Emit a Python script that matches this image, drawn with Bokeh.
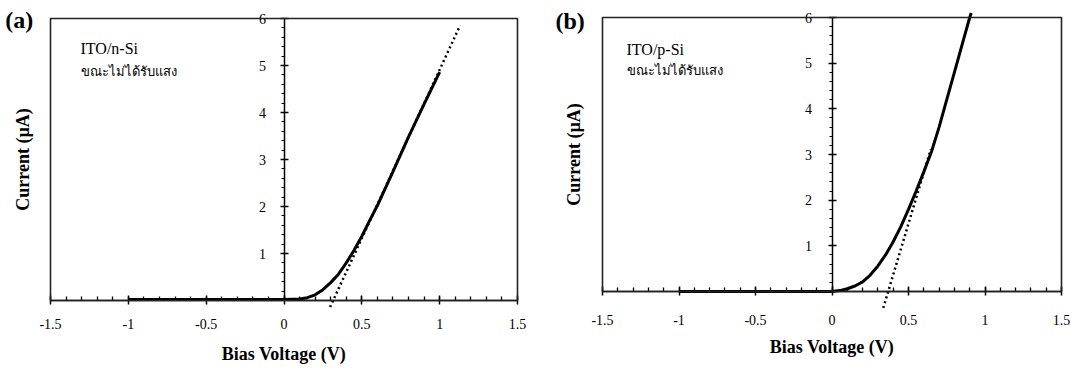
from bokeh.plotting import figure
from bokeh.models import Range1d, LinearAxis, FixedTicker, BoxAnnotation, Label
from bokeh.layouts import row
from bokeh.embed import file_html
from bokeh.resources import INLINE

# I-V curves measured in the dark
v_nsi = [-1.0, -0.5, 0.0, 0.1, 0.15, 0.2, 0.25, 0.3, 0.35, 0.4, 0.45, 0.5, 0.55, 0.6, 0.7, 0.8, 0.9, 1.0]
i_nsi = [0.02, 0.02, 0.02, 0.03, 0.06, 0.12, 0.23, 0.38, 0.56, 0.80, 1.07, 1.37, 1.70, 2.02, 2.74, 3.48, 4.18, 4.86]
fit_v_nsi = [0.296, 1.131]
fit_i_nsi = [-0.14, 5.85]

v_psi = [-1.0, -0.5, 0.0, 0.05, 0.1, 0.15, 0.2, 0.25, 0.3, 0.35, 0.4, 0.45, 0.5, 0.55, 0.6, 0.65, 0.7, 0.75, 0.8, 0.85, 0.9, 0.91]
i_psi = [0.0, 0.0, 0.0, 0.02, 0.06, 0.12, 0.21, 0.36, 0.56, 0.80, 1.09, 1.42, 1.80, 2.20, 2.62, 3.06, 3.60, 4.20, 4.80, 5.40, 6.0, 6.1]
fit_v_psi = [0.335, 0.645]
fit_i_psi = [-0.36, 3.11]

x_ticks = [-1.5, -1.0, -0.5, 0.0, 0.5, 1.0, 1.5]
x_tick_labels = ["-1.5", "-1", "-0.5", "0", "0.5", "1", "1.5"]
y_ticks = [1, 2, 3, 4, 5, 6]
y_tick_labels = ["1", "2", "3", "4", "5", "6"]

x_minor = [round(-1.5 + 0.1 * k, 2) for k in range(31)]
y_minor = [round(0.2 * k, 2) for k in range(31)]

X_LO, X_HI = -1.5, 1.5
Y_LO, Y_HI = 0.0, 6.0
HEIGHT = 370

SERIF = "Liberation Serif"
THAI_CAPTION = "ขณะไม่ได้รับแสง"


def padded(lo, hi, px_lo, px_hi, px_total):
    """Range whose [lo, hi] part lands on pixels [px_lo, px_hi] of a px_total canvas."""
    scale = (px_hi - px_lo) / (hi - lo)
    return Range1d(lo - px_lo / scale, hi + (px_total - px_hi) / scale)


def make_panel(tag, device, v, cur, fv, fi, width, box,
               xlab_standoff, xtitle_standoff, ylab_standoff, ytitle_standoff,
               tag_pos, text_pos, caption_y):
    left, right, top, bottom = box   # pixel edges of the plot box in this figure
    # y pixels are counted from the top, so flip them for the range helper
    p = figure(width=width, height=HEIGHT,
               x_range=padded(X_LO, X_HI, left, right, width),
               y_range=padded(Y_LO, Y_HI, HEIGHT - bottom, HEIGHT - top, HEIGHT),
               x_axis_location=None, y_axis_location=None,
               toolbar_location=None, output_backend="svg",
               min_border=0, outline_line_color=None,
               background_fill_color="white")
    p.xgrid.visible = False
    p.ygrid.visible = False

    p.add_layout(BoxAnnotation(left=X_LO, right=X_HI, bottom=Y_LO, top=Y_HI,
                               fill_alpha=0, line_color="#222222", line_alpha=1,
                               line_width=1.6))

    xaxis = LinearAxis(fixed_location=0, bounds=(X_LO, X_HI),
                       ticker=FixedTicker(ticks=x_ticks, minor_ticks=x_minor),
                       major_label_overrides=dict(zip(x_ticks, x_tick_labels)),
                       axis_label="Bias Voltage (V)",
                       axis_label_text_font=SERIF, axis_label_text_font_style="bold",
                       axis_label_text_font_size="18px", axis_label_text_color="black",
                       axis_label_standoff=xtitle_standoff,
                       major_label_text_font=SERIF, major_label_text_font_size="14px",
                       major_label_text_color="black",
                       major_label_standoff=xlab_standoff,
                       axis_line_color="black", axis_line_width=1.5,
                       major_tick_in=5, major_tick_out=4, major_tick_line_width=1.5,
                       minor_tick_in=4, minor_tick_out=0, minor_tick_line_width=1.3,
                       minor_tick_line_color="black", major_tick_line_color="black")
    p.add_layout(xaxis, "below")

    yaxis = LinearAxis(fixed_location=0, bounds=(Y_LO, Y_HI),
                       ticker=FixedTicker(ticks=y_ticks, minor_ticks=y_minor),
                       major_label_overrides=dict(zip(y_ticks, y_tick_labels)),
                       major_label_text_font=SERIF, major_label_text_font_size="14px",
                       major_label_text_color="black",
                       major_label_standoff=ylab_standoff,
                       axis_line_color="black", axis_line_width=1.5,
                       major_tick_in=4, major_tick_out=4, major_tick_line_width=1.5,
                       minor_tick_in=0, minor_tick_out=3, minor_tick_line_width=1.2,
                       minor_tick_line_color="black", major_tick_line_color="black")
    p.add_layout(yaxis, "left")

    ytitle = LinearAxis(fixed_location=X_LO, bounds=(Y_LO, Y_HI),
                        ticker=FixedTicker(ticks=[]),
                        axis_line_color=None, major_tick_line_color=None,
                        minor_tick_line_color=None, major_tick_out=0, major_tick_in=0,
                        axis_label="Current (µA)",
                        axis_label_text_font=SERIF, axis_label_text_font_style="bold",
                        axis_label_text_font_size="18px", axis_label_text_color="black",
                        axis_label_standoff=ytitle_standoff)
    p.add_layout(ytitle, "left")

    p.line(v, cur, line_color="black", line_width=3)
    p.line(fv, fi, line_color="black", line_width=2.5, line_dash="2 3")

    p.add_layout(Label(x=tag_pos[0], y=tag_pos[1], text=tag, text_font=SERIF,
                       text_font_style="bold", text_font_size="24px", text_color="black",
                       text_baseline="middle", text_align="left"))
    p.add_layout(Label(x=text_pos[0], y=text_pos[1], text=device, text_font=SERIF,
                       text_font_size="16px", text_color="black",
                       text_baseline="alphabetic"))
    p.add_layout(Label(x=text_pos[0], y=caption_y, text=THAI_CAPTION, text_font=SERIF,
                       text_font_size="13px", text_color="black",
                       text_baseline="alphabetic"))
    return p


pa = make_panel("(a)", "ITO/n-Si", v_nsi, i_nsi, fit_v_nsi, fit_i_nsi,
                width=545, box=(50, 517, 18, 300),
                xlab_standoff=14, xtitle_standoff=12, ylab_standoff=14, ytitle_standoff=18,
                tag_pos=(-1.79, 5.96), text_pos=(-1.307, 5.36), caption_y=4.87)
pb = make_panel("(b)", "ITO/p-Si", v_psi, i_psi, fit_v_psi, fit_i_psi,
                width=539, box=(57, 516, 17, 291),
                xlab_standoff=19, xtitle_standoff=9, ylab_standoff=16, ytitle_standoff=19,
                tag_pos=(-1.807, 5.92), text_pos=(-1.343, 5.29), caption_y=4.83)

layout = row(pa, pb)
open("out.html", "w").write(file_html(layout, INLINE))
